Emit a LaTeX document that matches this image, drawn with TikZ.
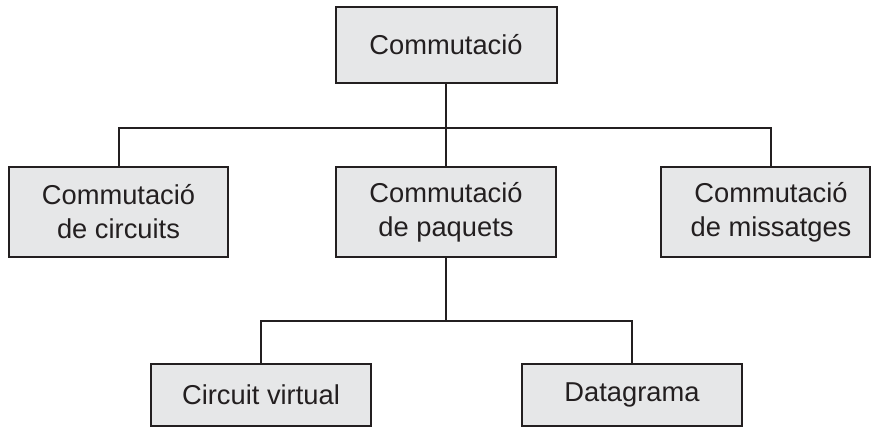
\documentclass[tikz,border=0pt]{standalone}
\usepackage{fontspec}
\setmainfont{Liberation Sans}
\definecolor{boxfill}{HTML}{E6E7E8}
\definecolor{ink}{HTML}{231F20}
\begin{document}
\begin{tikzpicture}[x=1pt,y=1pt,
  box/.style={draw=ink, fill=boxfill, line width=2pt, text=ink,
    align=center, inner sep=0pt, minimum height=90pt,
    font=\fontsize{27.3}{34}\selectfont},
  link/.style={draw=ink, line width=2pt}]
\useasboundingbox (0,0) rectangle (872,-428);

% tree nodes
\node[box, minimum width=221pt, minimum height=75pt] (root) at (446,-45) {Commutació};
\node[box, minimum width=219pt] (circ) at (118.5,-212) {Commutació\\de circuits};
\node[box, minimum width=220pt] (paq) at (446,-212) {Commutació\\de paquets};
% the right box is narrower; its text sits a little right of its middle
\node[box, minimum width=209pt] (msg) at (765.5,-212)
  {\hspace*{11pt}Commutació\\\hspace*{11pt}de missatges};
\node[box, minimum width=220pt, minimum height=62pt] (cv) at (261,-395) {Circuit virtual};
\node[box, minimum width=220pt, minimum height=62pt] (dg) at (632,-395) {Datagrama};

% branch points
\coordinate (bus1) at (446,-128);
\coordinate (bus2) at (446,-321);

% connectors
\draw[link] (root.south) -- (bus1);
\draw[link] (bus1) -- (paq.north);
\draw[link] (bus1) -| (circ.north);
\draw[link] (bus1) -| ([xshift=5.5pt]msg.north);
\draw[link] (paq.south) -- (bus2);
\draw[link] (bus2) -| (cv.north);
\draw[link] (bus2) -| (dg.north);
\end{tikzpicture}
\end{document}
